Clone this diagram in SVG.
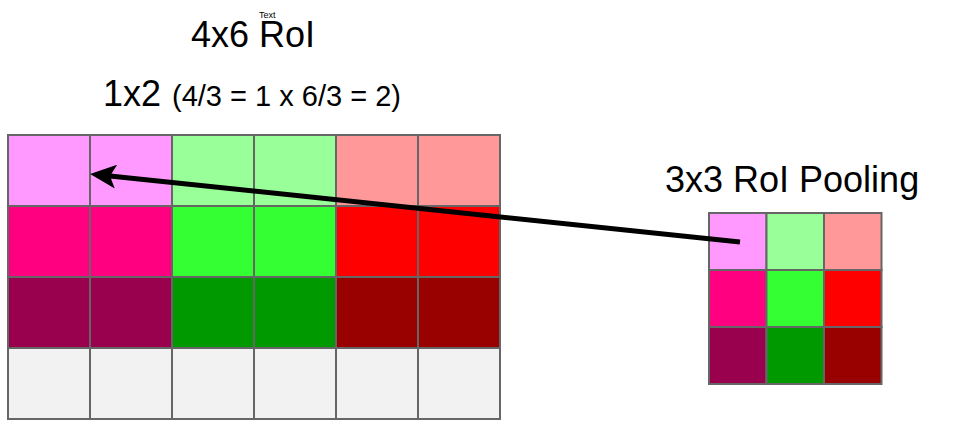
<svg xmlns="http://www.w3.org/2000/svg" width="960" height="430" viewBox="0 0 960 430">
  <defs>
    <style>
      .t { font-family: "Liberation Sans", Arial, sans-serif; fill: #000; }
      .c { stroke: #666; stroke-width: 2; }
      .p1 { fill: #FF99FF; } .g1 { fill: #99FF99; } .r1 { fill: #FF9999; }
      .p2 { fill: #FF0080; } .g2 { fill: #33FF33; } .r2 { fill: #FF0000; }
      .p3 { fill: #99004D; } .g3 { fill: #009900; } .r3 { fill: #990000; }
      .w  { fill: #F2F2F2; }
    </style>
    <marker id="ah" viewBox="0 0 26 24" refX="6" refY="12" markerWidth="26" markerHeight="24" markerUnits="userSpaceOnUse" orient="auto">
      <path d="M0,0 L26,12 L0,24 L6,12 Z" fill="#000"/>
    </marker>
  </defs>
  <rect width="960" height="430" fill="#fff"/>

  <g id="labels">
    <text class="t" x="191" y="47" font-size="36">4x6 RoI</text>
    <text class="t" x="259" y="18" font-size="9">Text</text>
    <text class="t" x="103" y="106" font-size="36">1x2</text>
    <text class="t" x="172" y="106" font-size="29">(4/3 = 1 x 6/3 = 2)</text>
    <text class="t" x="665" y="192" font-size="36">3x3 RoI Pooling</text>
  </g>

  <g id="roi-4x6">
    <rect class="c p1" x="8" y="135" width="82" height="71"/>
    <rect class="c p1" x="90" y="135" width="82" height="71"/>
    <rect class="c g1" x="172" y="135" width="82" height="71"/>
    <rect class="c g1" x="254" y="135" width="82" height="71"/>
    <rect class="c r1" x="336" y="135" width="82" height="71"/>
    <rect class="c r1" x="418" y="135" width="82" height="71"/>

    <rect class="c p2" x="8" y="206" width="82" height="71"/>
    <rect class="c p2" x="90" y="206" width="82" height="71"/>
    <rect class="c g2" x="172" y="206" width="82" height="71"/>
    <rect class="c g2" x="254" y="206" width="82" height="71"/>
    <rect class="c r2" x="336" y="206" width="82" height="71"/>
    <rect class="c r2" x="418" y="206" width="82" height="71"/>

    <rect class="c p3" x="8" y="277" width="82" height="71"/>
    <rect class="c p3" x="90" y="277" width="82" height="71"/>
    <rect class="c g3" x="172" y="277" width="82" height="71"/>
    <rect class="c g3" x="254" y="277" width="82" height="71"/>
    <rect class="c r3" x="336" y="277" width="82" height="71"/>
    <rect class="c r3" x="418" y="277" width="82" height="71"/>

    <rect class="c w" x="8" y="348" width="82" height="71"/>
    <rect class="c w" x="90" y="348" width="82" height="71"/>
    <rect class="c w" x="172" y="348" width="82" height="71"/>
    <rect class="c w" x="254" y="348" width="82" height="71"/>
    <rect class="c w" x="336" y="348" width="82" height="71"/>
    <rect class="c w" x="418" y="348" width="82" height="71"/>
  </g>

  <g id="pool-3x3">
    <rect class="c p1" x="709" y="213" width="57.5" height="57"/>
    <rect class="c g1" x="766.5" y="213" width="57.5" height="57"/>
    <rect class="c r1" x="824" y="213" width="57.5" height="57"/>
    <rect class="c p2" x="709" y="270" width="57.5" height="57"/>
    <rect class="c g2" x="766.5" y="270" width="57.5" height="57"/>
    <rect class="c r2" x="824" y="270" width="57.5" height="57"/>
    <rect class="c p3" x="709" y="327" width="57.5" height="57"/>
    <rect class="c g3" x="766.5" y="327" width="57.5" height="57"/>
    <rect class="c r3" x="824" y="327" width="57.5" height="57"/>
  </g>

  <g id="connectors">
    <line x1="740" y1="242" x2="110" y2="176" stroke="#000" stroke-width="5" marker-end="url(#ah)"/>
  </g>
</svg>
